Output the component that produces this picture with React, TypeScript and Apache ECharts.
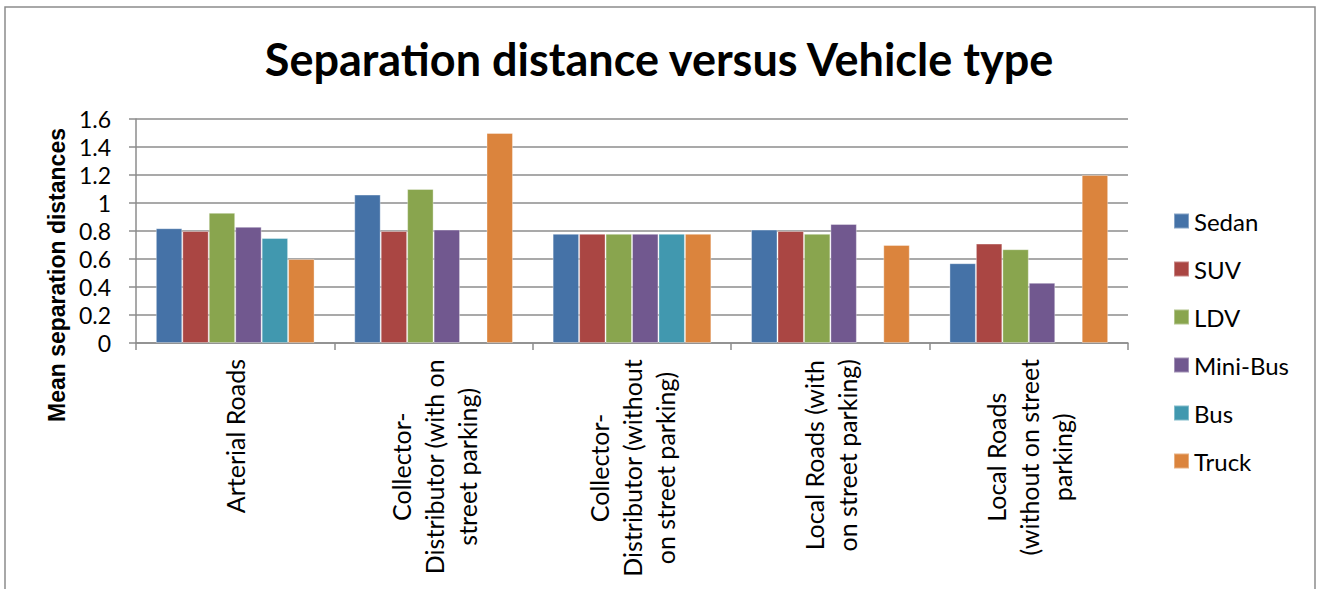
import React, { useEffect, useRef } from "react";
import * as echarts from "echarts";

const titleText = "Separation distance versus Vehicle type";
const yAxisTitle = "Mean separation distances";
const categories = [
  "Arterial Roads",
  "Collector-\nDistributor (with on\nstreet parking)",
  "Collector-\nDistributor (without\non street parking)",
  "Local Roads (with\non street parking)",
  "Local Roads\n(without on street\nparking)",
];
const seriesNames = ["Sedan", "SUV", "LDV", "Mini-Bus", "Bus", "Truck"];
const sedan = [0.82, 1.06, 0.78, 0.81, 0.57];
const suv = [0.8, 0.8, 0.78, 0.8, 0.71];
const ldv = [0.93, 1.1, 0.78, 0.78, 0.67];
const miniBus = [0.83, 0.81, 0.78, 0.85, 0.43];
const bus = [0.75, null, 0.78, null, null];
const truck = [0.6, 1.5, 0.78, 0.7, 1.2];
const yMin = 0;
const yMax = 1.6;
const yStep = 0.2;

const colors = ["#4572A7", "#AA4643", "#89A54E", "#71588F", "#4198AF", "#DB843D"];
const FONT = "Lato, 'Open Sans', sans-serif";

export default function App() {
  const ref = useRef<HTMLDivElement>(null);
  useEffect(() => {
    document.body.style.margin = "0";
    if (!ref.current) return;
    const chart = echarts.init(ref.current, null, { renderer: "svg" });
    const values = [sedan, suv, ldv, miniBus, bus, truck];
    chart.setOption({
      animation: false,
      color: colors,
      title: {
        text: titleText,
        left: "center",
        top: 31,
        textStyle: { fontFamily: FONT, fontWeight: "bold", fontSize: 45, color: "#000" },
      },
      legend: {
        orient: "vertical",
        left: 1168,
        top: 204,
        itemWidth: 15,
        itemHeight: 15,
        itemGap: 24,
        icon: "rect",
        data: seriesNames,
        textStyle: { fontFamily: FONT, fontSize: 24, lineHeight: 24, color: "#000" },
      },
      graphic: [
        {
          type: "rect",
          shape: { x: 5, y: 7, width: 1310, height: 620 },
          style: { fill: "none", stroke: "#8c8c8c", lineWidth: 1.5 },
          silent: true,
        },
        {
          type: "text",
          x: 57,
          y: 275,
          rotation: Math.PI / 2,
          style: {
            text: yAxisTitle,
            fontFamily: "'Liberation Sans', Arial, sans-serif",
            fontWeight: "bold",
            fontSize: 23,
            fill: "#000",
            align: "center",
            verticalAlign: "middle",
          },
        },
      ],
      grid: { left: 136, right: 190, top: 119, bottom: 246, containLabel: false },
      xAxis: {
        type: "category",
        data: categories,
        axisLine: { show: true, lineStyle: { color: "#8c8c8c", width: 1.5 } },
        axisTick: { show: true, length: 7, lineStyle: { color: "#8c8c8c", width: 1.5 } },
        axisLabel: {
          interval: 0,
          rotate: 90,
          margin: 16,
          formatter: (v: string) =>
            v
              .split("\n")
              .map((l) => `{c|${l}}`)
              .join("\n"),
          rich: {
            c: { align: "center", fontFamily: FONT, fontSize: 25, lineHeight: 33, color: "#000" },
          },
        },
      },
      yAxis: {
        type: "value",
        min: yMin,
        max: yMax,
        interval: yStep,
        axisLine: { show: true, lineStyle: { color: "#8c8c8c", width: 1.5 } },
        axisTick: { show: true, length: 7, lineStyle: { color: "#8c8c8c", width: 1.5 } },
        splitLine: { show: true, lineStyle: { color: "#8c8c8c", width: 1.5 } },
        axisLabel: {
          margin: 25,
          fontFamily: FONT,
          fontSize: 23,
          color: "#000",
          formatter: (v: number) => String(Math.round(v * 10) / 10),
        },
      },
      series: seriesNames.map((name, i) => ({
        name,
        type: "bar",
        data: values[i],
        barGap: "0%",
        barCategoryGap: "20%",
        itemStyle: { borderColor: "rgba(255,255,255,0.35)", borderWidth: 1 },
      })),
    });
    return () => chart.dispose();
  }, []);
  return <div ref={ref} style={{ width: 1318, height: 589 }} />;
}
